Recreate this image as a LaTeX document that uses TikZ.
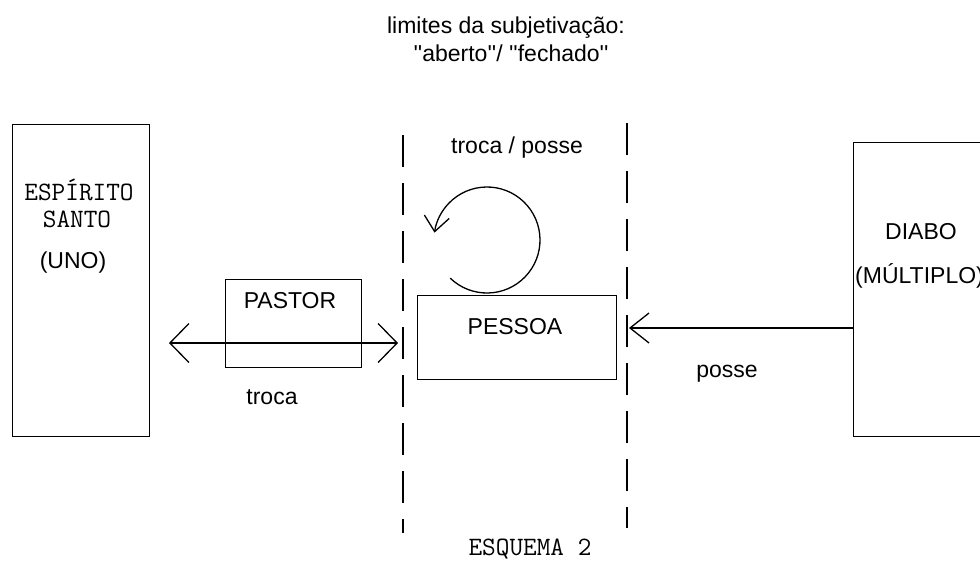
\documentclass[tikz,border=0pt]{standalone}
\usepackage{fontspec}
\setmainfont{Liberation Sans}[Ligatures=TeXOff]
\usetikzlibrary{arrows.meta}
\tikzset{
  box/.style={draw, line width=1.3pt, minimum width=#1, inner sep=0pt, anchor=north west},
  lbl/.style={font=\fontsize{23}{27}\selectfont, inner sep=0pt},
  mlbl/.style={font=\fontsize{26.5}{30}\selectfont\ttfamily, inner sep=0pt},
  conn/.style={line width=1.3pt},
  limit/.style={line width=1.5pt, dash pattern=on 32pt off 16pt},
  bigtip/.tip={Straight Barb[length=19pt,width=39pt,line width=1.3pt]},
  smalltip/.tip={Straight Barb[length=19pt,width=30pt,line width=1.3pt]},
  circtip/.tip={Straight Barb[length=15pt,width=25pt,line width=1.3pt]}
}
\begin{document}
\begin{tikzpicture}[x=1pt,y=-1pt]
\clip (0,0) rectangle (980,563);
\fill[white] (0,0) rectangle (980,563);
% boxes
\node[box=137pt, minimum height=312pt] (espirito) at (12,124) {};
\node[box=136pt, minimum height=88pt] (pastor) at (225,279) {};
\node[box=199pt, minimum height=84pt] (pessoa) at (417,295) {};
\node[box=160pt, minimum height=294pt] (diabo) at (853,142) {};
% texts
\node[lbl] (t1) at (506,28) {limites da subjetivação:};
\node[lbl] (t2) at (511,53) {''aberto''/ ''fechado''};
\node[lbl] (tp) at (517,148) {troca / posse};
\node[mlbl] (es1) at (79,190) {ESPÍRITO};
\node[mlbl] (es2) at (77,219) {SANTO};
\node[lbl] (uno) at (73,263) {(UNO)};
\node[lbl] (pastortxt) at (290,301) {PASTOR};
\node[lbl] (pessoatxt) at (515,327) {PESSOA};
\node[lbl] (troca) at (272,397) {troca};
\node[lbl] (posse) at (727,374) {posse};
\node[lbl] (diabotxt) at (921,232) {DIABO};
\node[lbl, anchor=west] (mult) at (855,276) {(MÚLTIPLO)};
\node[mlbl] (esq) at (530,549) {ESQUEMA 2};
% limit lines
\coordinate (l1a) at (403,135);
\coordinate (l1b) at (403,533);
\coordinate (l2a) at (627,123);
\coordinate (l2b) at (627,528);
\draw[limit] (l1a) -- (l1b);
\draw[limit] (l2a) -- (l2b);
% double arrow troca
\coordinate (dl) at (169,343);
\coordinate (dr) at (398,343);
\draw[conn, {bigtip}-{bigtip}] (dl) -- (dr);
% posse arrow
\coordinate (ps) at (853,328);
\coordinate (pe) at (629,328);
\draw[conn, -{smalltip}] (ps) -- (pe);
% loop arrow
\coordinate (cc) at (487,240);
\draw[conn, -{circtip}] ([shift={(134:53)}]cc) arc[start angle=134, end angle=-172, radius=53];
\end{tikzpicture}
\end{document}
